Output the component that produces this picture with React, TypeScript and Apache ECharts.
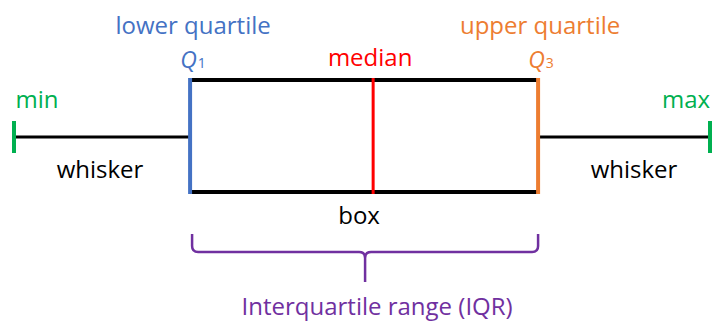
import React, { useEffect, useRef } from "react";
import * as echarts from "echarts";

const categories = ["box"];
// min, Q1, median, Q3, max
const stats = [0, 25.3, 51.6, 75.3, 100];
const statNames = ["min", "lower quartile", "median", "upper quartile", "max"];
const quartileSymbols = ["Q", "1", "Q", "3"];
const partNames = ["whisker", "box", "whisker"];
const rangeName = "Interquartile range (IQR)";

const BLUE = "#4472C4";
const ORANGE = "#ED7D31";
const RED = "#FF0000";
const GREEN = "#00B050";
const PURPLE = "#7030A0";
const BLACK = "#000000";
const FONT = "'Open Sans', Lato, sans-serif";
const FS = 24;

export default function App() {
  const ref = useRef<HTMLDivElement>(null);
  useEffect(() => {
    const chart = echarts.init(ref.current!, null, { renderer: "svg" });
    const renderItem = (params: any, api: any) => {
      const mn = api.value(0), q1 = api.value(1), md = api.value(2), q3 = api.value(3), mx = api.value(4);
      const X = (v: number) => api.coord([v, 0])[0];
      const yc = api.coord([0, 0])[1];
      const band = api.size([0, 1])[1];
      const top = yc - band / 2;
      const bot = yc + band / 2;
      const wy = yc + 1;
      const xMin = X(mn), xQ1 = X(q1), xMd = X(md), xQ3 = X(q3), xMx = X(mx);
      const line = (x1: number, y1: number, x2: number, y2: number, stroke: string, lineWidth: number) => ({
        type: "line",
        shape: { x1, y1, x2, y2 },
        style: { stroke, lineWidth },
      });
      const text = (t: string, x: number, y: number, fill: string, fontSize = FS) => ({
        type: "text",
        style: { text: t, x, y, fill, fontSize, fontFamily: FONT, align: "center", verticalAlign: "middle" },
      });
      const qText = (a: string, b: string, x: number, y: number, fill: string) => ({
        type: "text",
        style: {
          text: `{q|${a}}{s|${b}}`,
          x, y, align: "center", verticalAlign: "middle",
          rich: {
            q: { fontSize: 23, fontStyle: "italic", fontFamily: FONT, fill },
            s: { fontSize: 14, fontFamily: FONT, fill, padding: [7, 0, 0, 1] },
          },
        },
      });
      const L = xQ1 + 2, R = xQ3, M = (L + R) / 2;
      const y0 = bot + 42, y1 = bot + 60, y2 = bot + 90;
      const r = 6;
      const brace =
        `M${L} ${y0} L${L} ${y1 - r} Q${L} ${y1} ${L + r} ${y1} L${M - r} ${y1} Q${M} ${y1} ${M} ${y1 + r} L${M} ${y2} ` +
        `M${M} ${y1 + r} Q${M} ${y1} ${M + r} ${y1} L${R - r} ${y1} Q${R} ${y1} ${R} ${y1 - r} L${R} ${y0}`;
      return {
        type: "group",
        children: [
          line(xMin, wy, xQ1, wy, BLACK, 3),
          line(xQ3, wy, xMx, wy, BLACK, 3),
          line(xQ1, top, xQ3, top, BLACK, 4),
          line(xQ1, bot, xQ3, bot, BLACK, 4),
          line(xQ1, top - 2, xQ1, bot + 2, BLUE, 4),
          line(xMd, top - 2, xMd, bot + 2, RED, 3),
          line(xQ3, top - 2, xQ3, bot + 2, ORANGE, 4),
          line(xMin, wy - 16, xMin, wy + 16, GREEN, 4),
          line(xMx, wy - 16, xMx, wy + 16, GREEN, 4),
          {
            type: "path",
            shape: { pathData: brace },
            style: { stroke: PURPLE, lineWidth: 2.5, fill: "none" },
          },
          text(statNames[0], xMin + 23, top + 18, GREEN),
          text(statNames[1], xQ1 + 3, top - 56, BLUE),
          text(statNames[2], xMd - 3, top - 24, RED),
          text(statNames[3], xQ3 + 2, top - 56, ORANGE),
          text(statNames[4], xMx - 24, top + 18, GREEN),
          qText(quartileSymbols[0], quartileSymbols[1], xQ1 + 3, top - 21, BLUE),
          qText(quartileSymbols[2], quartileSymbols[3], xQ3 + 3, top - 21, ORANGE),
          text(partNames[0], (xMin + xQ1) / 2 - 2, bot - 24, BLACK),
          text(partNames[1], M - 6, bot + 22, BLACK),
          text(partNames[2], (xQ3 + xMx) / 2 + 10, bot - 24, BLACK),
          text(rangeName, M + 12, y2 + 23, PURPLE),
        ],
      };
    };
    chart.setOption({
      animation: false,
      grid: { left: 14, right: 2, top: 80, bottom: 134 },
      xAxis: { type: "value", min: 0, max: 100, show: false },
      yAxis: { type: "category", data: categories, show: false },
      series: [
        {
          type: "custom",
          renderItem,
          clip: false,
          encode: { x: [0, 1, 2, 3, 4], y: 5 },
          data: [[...stats, 0]],
        },
      ],
    });
    return () => chart.dispose();
  }, []);
  return (
    <div
      ref={ref}
      style={{ position: "fixed", left: 0, top: 0, width: 712, height: 326, background: "#fff" }}
    />
  );
}
